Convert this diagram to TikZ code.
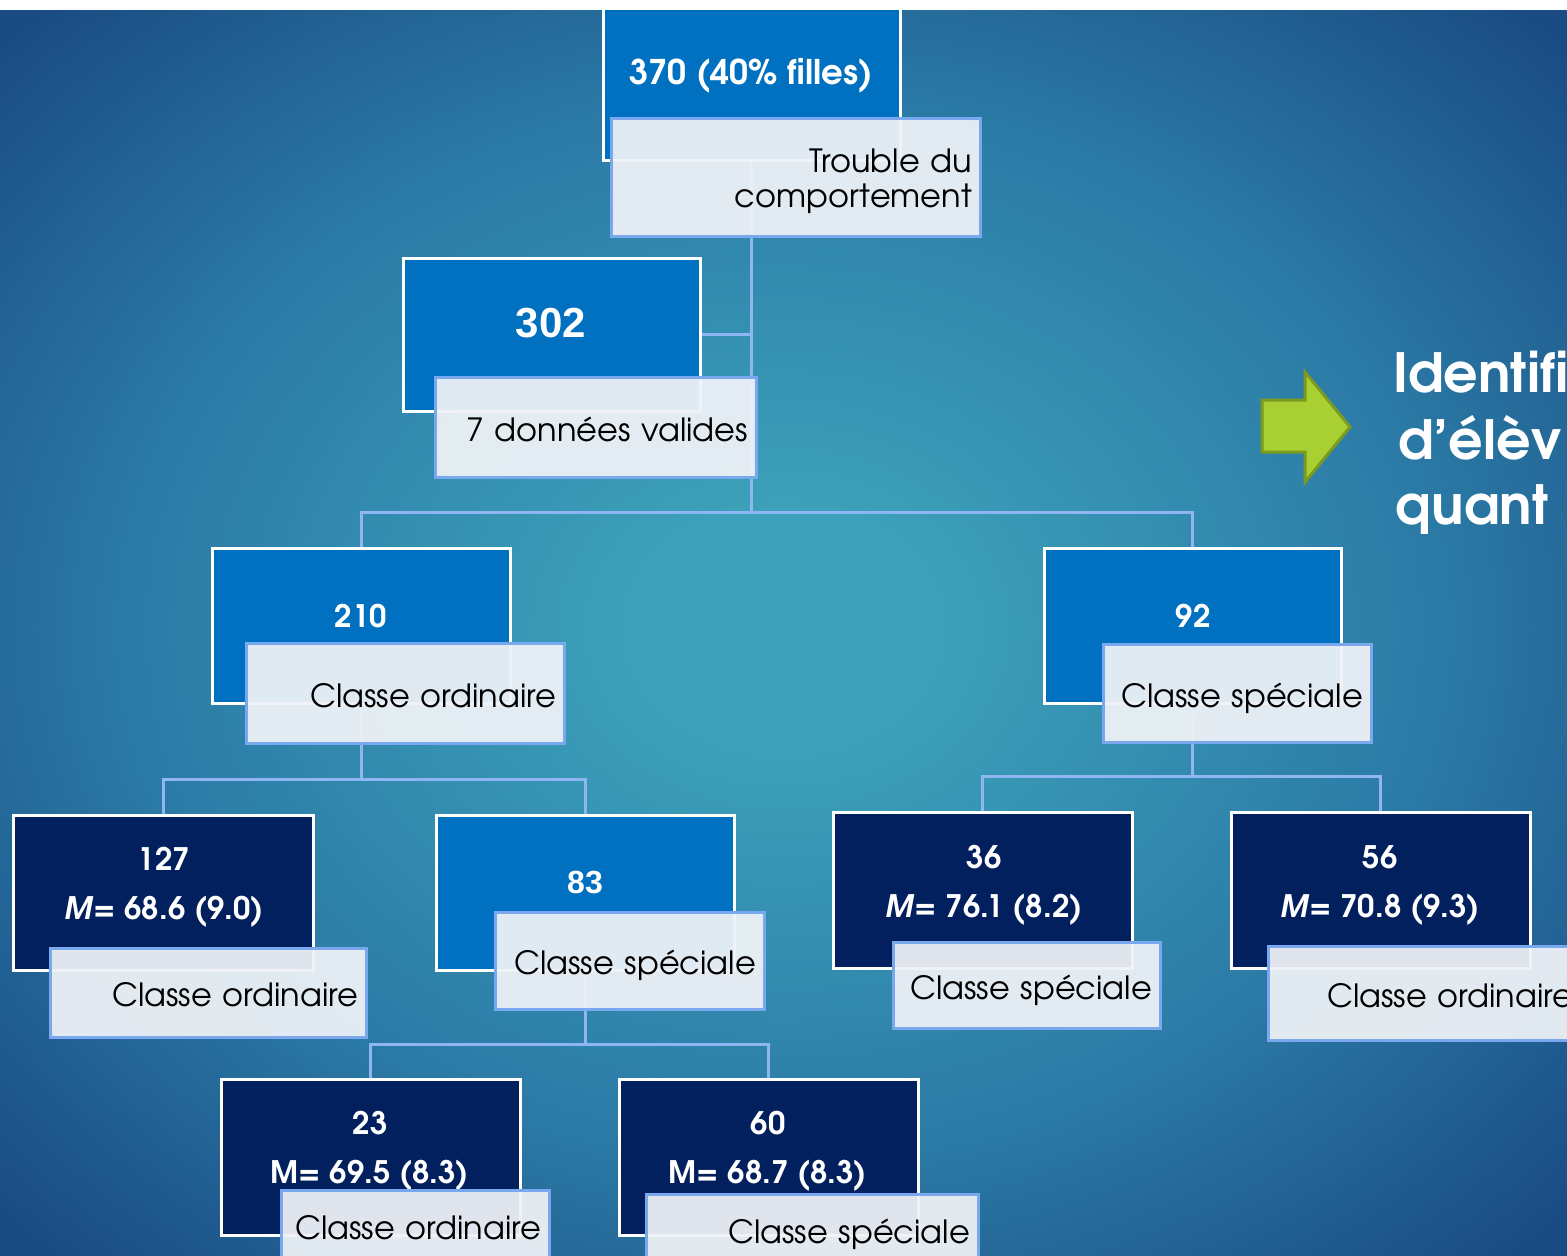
\documentclass[tikz,border=0pt]{standalone}
\usepackage{fontspec}
\setmainfont{texgyreadventor}[Extension=.otf, UprightFont=*-regular, BoldFont=*-bold, ItalicFont=*-italic, BoldItalicFont=*-bolditalic]
\newfontfamily\arialfont{Liberation Sans}
\definecolor{boxblue}{HTML}{0070C0}
\definecolor{navy}{HTML}{021F5E}
\definecolor{labfill}{HTML}{EEF2F6}
\definecolor{labborder}{HTML}{7AA8EE}
\definecolor{connc}{HTML}{8FB6F2}
\definecolor{bgA}{HTML}{3CA0B9}
\definecolor{bgB}{HTML}{2B7AA6}
\definecolor{bgC}{HTML}{1A4C83}
\definecolor{arrowfill}{HTML}{A8D032}
\definecolor{arrowline}{HTML}{7B9A1E}
\pgfdeclareradialshading{bgshade}{\pgfpoint{0bp}{0bp}}{color(0bp)=(bgA); color(5bp)=(bgA); color(21bp)=(bgB); color(34bp)=(bgC); color(50bp)=(bgC)}
\pgfdeclarelayer{bg}
\pgfdeclarelayer{lines}
\pgfsetlayers{bg,lines,main}
\newcommand\labfont{\fontsize{32}{35}\selectfont}
\newcommand\numfont{\bfseries\fontsize{31}{49}\selectfont}
\tikzset{
  box/.style={draw=white, line width=3pt, inner sep=0pt},
  bluebox/.style={box, fill=boxblue},
  navybox/.style={box, fill=navy},
  labbase/.style={draw=labborder, line width=3pt, fill=labfill, fill opacity=0.94, text opacity=1, align=right, inner xsep=8pt, inner ysep=0pt, font=\labfont, text=black},
  lab/.style={labbase, text height=28pt, text depth=0pt},
  conn/.style={draw=connc, line width=3pt},
  num/.style={text=white, font=\numfont, align=center, inner sep=0pt},
  bigtxt/.style={text=white, font=\bfseries\fontsize{54}{67}\selectfont, inner sep=0pt, anchor=base west}
}
\begin{document}
\begin{tikzpicture}[x=1pt,y=-1pt]
\useasboundingbox (0,0) rectangle (1567,1256);
\begin{pgfonlayer}{bg}
\shade[shading=bgshade] (0,0) rectangle (1567,1256);
\end{pgfonlayer}

% boxes
\node[bluebox, minimum width=297pt, minimum height=153pt] (root) at (751.5,83.5) {};
\node[num, font=\bfseries\fontsize{34}{40}\selectfont] (t370) at (751,76) {370 (40\% filles)};
\node[bluebox, minimum width=297pt, minimum height=153pt] (n302) at (551.5,334.5) {};
\node[num, font=\arialfont\bfseries\fontsize{42}{48}\selectfont] (t302) at (551,323) {302};
\node[bluebox, minimum width=298pt, minimum height=155pt] (n210) at (361,625.5) {};
\node[num] (t210) at (361,616) {210};
\node[bluebox, minimum width=297pt, minimum height=155pt] (n92) at (1192.5,625.5) {};
\node[num] (t92) at (1193,616) {92};
\node[navybox, minimum width=300pt, minimum height=155pt] (n127) at (163,892.5) {};
\node[num] (t127) at (164,887) {127\\\textit{M}= 68.6 (9.0)};
\node[bluebox, minimum width=298pt, minimum height=155pt] (n83) at (585,892.5) {};
\node[num, font=\arialfont\bfseries\fontsize{32}{40}\selectfont] (t83) at (585,882) {83};
\node[navybox, minimum width=299pt, minimum height=156pt] (n36) at (982.5,890) {};
\node[num] (t36) at (984,885) {36\\\textit{M}= 76.1 (8.2)};
\node[navybox, minimum width=299pt, minimum height=156pt] (n56) at (1380.5,890) {};
\node[num] (t56) at (1380,885) {56\\\textit{M}= 70.8 (9.3)};
\node[navybox, minimum width=299pt, minimum height=156pt] (n23) at (370.5,1157) {};
\node[num] (t23) at (370,1151) {23\\M= 69.5 (8.3)};
\node[navybox, minimum width=299pt, minimum height=156pt] (n60) at (768.5,1157) {};
\node[num] (t60) at (768,1151) {60\\M= 68.7 (8.3)};

% connectors
\coordinate (j1) at (751.5,512);
\coordinate (j2) at (361,779);
\coordinate (j3) at (1192.5,776);
\coordinate (j4) at (585,1044);
\begin{pgfonlayer}{lines}
\draw[conn] (root.center) -- (j1);
\draw[conn] (n302.center) -- (n302.center -| j1);
\draw[conn] (n210.north) |- (j1) -| (n92.north);
\draw[conn] (n210.center) -- (j2);
\draw[conn] (n127.north) |- (j2) -| (n83.north);
\draw[conn] (n92.center) -- (j3);
\draw[conn] (n36.north) |- (j3) -| (n56.north);
\draw[conn] (n83.center) -- (j4);
\draw[conn] (n23.north) |- (j4) -| (n60.north);
\end{pgfonlayer}

% labels
\node[labbase, text width=353pt, minimum height=118pt] (rootL) at (795.5,177) {\rule{0pt}{33pt}Trouble du\\comportement};
\node[lab, text width=305pt, minimum height=100pt] (l302) at (595.5,427) {7 données valides};
\node[lab, text width=302pt, minimum height=100pt] (l210) at (405,693) {Classe ordinaire};
\node[lab, text width=252pt, minimum height=98pt] (l92) at (1237,693) {Classe spéciale};
\node[lab, text width=300pt, minimum height=89pt] (l127) at (208,992.5) {Classe ordinaire};
\node[lab, text width=253pt, minimum height=97pt] (l83) at (629.5,960.5) {Classe spéciale};
\node[lab, text width=251pt, minimum height=86pt] (l36) at (1026.5,985) {Classe spéciale};
\node[lab, text width=297pt, minimum height=94pt] (l56) at (1424.5,993) {Classe ordinaire};
\node[lab, text width=252pt, minimum height=70pt] (l23) at (415,1225) {Classe ordinaire};
\node[lab, text width=316pt, minimum height=70pt] (l60) at (812,1229) {Classe spéciale};

% green arrow
\draw[fill=arrowfill, draw=arrowline, line width=3pt, line join=miter]
  (1262,400) -- (1305,400) -- (1305,372) -- (1350,427) -- (1305,482) -- (1305,452) -- (1262,452) -- cycle;

% right text
\node[bigtxt] (r1) at (1393,392) {Identifi};
\node[bigtxt] (r2) at (1398,459) {d’élèv};
\node[bigtxt] (r3) at (1395,524) {quant};

% white strip on top
\fill[white] (0,0) rectangle (1567,10);
\end{tikzpicture}
\end{document}
